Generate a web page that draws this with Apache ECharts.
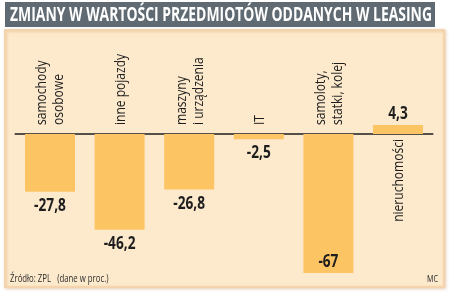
<!DOCTYPE html>
<html>
<head>
<meta charset="utf-8">
<script src="https://cdn.jsdelivr.net/npm/echarts@6/dist/echarts.min.js"></script>
<style>
  html, body { margin: 0; padding: 0; background: #fff; }
  #chart { width: 450px; height: 296px; }
</style>
</head>
<body>
<div id="chart"></div>
<script>
// Zmiany w wartości przedmiotów oddanych w leasing (dane w proc.)
const categories = ['samochody\nosobowe', 'inne pojazdy', 'maszyny\ni urządzenia', 'IT', 'samoloty,\nstatki, kolej', 'nieruchomości'];
const values = [-27.8, -46.2, -26.8, -2.5, -67, 4.3];

const TITLE = 'ZMIANY W WARTOŚCI PRZEDMIOTÓW ODDANYCH W LEASING';
const SOURCE = 'Źródło: ZPL   (dane w proc.)';
const AUTHOR = 'MC';

// no condensed humanist face installed -> Open Sans squeezed horizontally
const FONT = '"Open Sans", "DejaVu Sans", sans-serif';
const CAT_SQUEEZE = 0.86;
const VAL_SQUEEZE = 0.76;
const BAR_COLOR = '#fdc463';
const INK = '#1e1e1e';

const fmtPl = (v) => String(v).replace('.', ',');

function fitScale(text, font, width) {
  const ctx = document.createElement('canvas').getContext('2d');
  ctx.font = font;
  const w = ctx.measureText(text).width;
  return w > 0 ? width / w : 1;
}
const TITLE_FONT = 'bold 20px ' + FONT;
const tScale = fitScale(TITLE, TITLE_FONT, 422);

const chart = echarts.init(document.getElementById('chart'));

chart.setOption({
  animation: false,
  backgroundColor: '#ffffff',
  grid: { left: 15.2, right: 17.2, top: 113.25, height: 166 },
  xAxis: {
    type: 'category',
    data: categories,
    axisLine: { onZero: true, lineStyle: { color: INK, width: 1.5 } },
    axisTick: { show: false },
    axisLabel: { show: false },
    splitLine: { show: false },
  },
  yAxis: { type: 'value', min: -70, max: 10, show: false },
  graphic: [
    {
      type: 'rect', z: -10, silent: true,
      shape: { x: 5, y: 30, width: 439, height: 257 },
      style: { fill: '#fdeacd', stroke: '#f4d3ad', lineWidth: 2,
               shadowBlur: 3, shadowColor: 'rgba(200,140,80,0.35)', shadowOffsetX: 1, shadowOffsetY: 1 },
    },
    {
      type: 'rect', z: -10, silent: true,
      shape: { x: 5, y: 2, width: 430, height: 25 },
      style: { fill: '#5f6a72' },
    },
    {
      type: 'text', z: 10, silent: true,
      x: 10, y: 15, scaleX: tScale,
      style: { text: TITLE, font: TITLE_FONT, fill: '#ffffff', verticalAlign: 'middle', align: 'left' },
    },
    {
      type: 'text', z: 10, silent: true,
      x: 10, y: 279, scaleX: 0.78,
      style: { text: SOURCE, font: '10px ' + FONT, fill: '#2a2a2a', verticalAlign: 'middle', align: 'left' },
    },
    {
      type: 'text', z: 10, silent: true,
      x: 438, y: 279, scaleX: 0.8,
      style: { text: AUTHOR, font: '9px ' + FONT, fill: '#2a2a2a', verticalAlign: 'middle', align: 'right' },
    },
  ],
  series: [
    {
      type: 'bar',
      barWidth: 50,
      itemStyle: { color: BAR_COLOR },
      data: values,
    },
    {
      // value labels: below negative bars, above positive ones, inside when no room
      type: 'custom',
      coordinateSystem: 'cartesian2d',
      silent: true,
      z: 6,
      data: values.map((v, i) => [i, v]),
      renderItem: (params, api) => {
        const i = api.value(0), v = api.value(1);
        const end = api.coord([i, v]);
        const cs = params.coordSys;
        let y;
        if (v >= 0) y = end[1] - 11;
        else if (end[1] + 24 > cs.y + cs.height) y = end[1] - 11;
        else y = end[1] + 14;
        return {
          type: 'text',
          x: end[0], y: y, scaleX: VAL_SQUEEZE,
          style: {
            text: fmtPl(v), font: 'bold 18px ' + FONT, fill: INK,
            align: 'center', verticalAlign: 'middle',
          },
        };
      },
    },
    {
      // category names, written upright on the side opposite the bar
      type: 'custom',
      coordinateSystem: 'cartesian2d',
      silent: true,
      z: 5,
      data: categories.map((c, i) => [i, 0]),
      renderItem: (params, api) => {
        const i = api.value(0);
        const pt = api.coord([i, 0]);
        const below = values[i] >= 0;
        return {
          type: 'text',
          x: pt[0] + 1,
          y: below ? pt[1] + 5 : pt[1] - 9,
          rotation: Math.PI / 2,
          scaleX: CAT_SQUEEZE,
          style: {
            text: categories[i],
            font: '14px ' + FONT,
            lineHeight: 17,
            fill: INK,
            align: below ? 'right' : 'left',
            verticalAlign: 'middle',
          },
        };
      },
    },
  ],
});
</script>
</body>
</html>
